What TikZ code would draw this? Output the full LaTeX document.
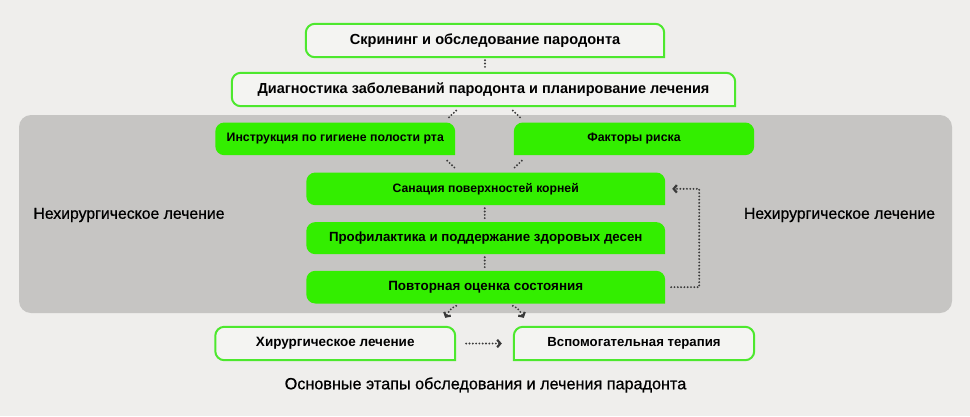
\documentclass[tikz,border=0pt]{standalone}
\usepackage{fontspec}
\setmainfont{Liberation Sans}
\newfontfamily\medfont[FakeBold=0.7]{Liberation Sans}
\usetikzlibrary{arrows.meta,calc,backgrounds}
\definecolor{bgc}{HTML}{EFEEEC}
\definecolor{panelc}{HTML}{C6C5C3}
\definecolor{gfill}{HTML}{33EE00}
\definecolor{gline}{HTML}{4DE82E}
\definecolor{wfill}{HTML}{F4F4F2}
\definecolor{dotc}{HTML}{3A3A3A}
\newcommand\rr{9pt}
% shape with sharp south-east corner
\newcommand\shapeSE[2]{\path[#2] let \p1=(#1.south west),\p2=(#1.north east) in
 (\x2,\y1) -- (\x2,{\y2-\rr}) arc[start angle=0,end angle=90,radius=\rr]
 -- ({\x1+\rr},\y2) arc[start angle=90,end angle=180,radius=\rr]
 -- (\x1,{\y1+\rr}) arc[start angle=180,end angle=270,radius=\rr] -- cycle;}
% shape with sharp south-west corner
\newcommand\shapeSW[2]{\path[#2] let \p1=(#1.south west),\p2=(#1.north east) in
 (\x1,\y1) -- ({\x2-\rr},\y1) arc[start angle=270,end angle=360,radius=\rr]
 -- (\x2,{\y2-\rr}) arc[start angle=0,end angle=90,radius=\rr]
 -- ({\x1+\rr},\y2) arc[start angle=90,end angle=180,radius=\rr] -- cycle;}
\begin{document}
\begin{tikzpicture}[x=1pt,y=1pt,
  tb/.style={inner sep=0pt,text=black},
  wbox/.style={fill=wfill,draw=gline,line width=2pt},
  gbox/.style={fill=gfill},
  dotline/.style={draw=dotc,line width=2.1pt,line cap=round,dash pattern=on 0pt off 3.3pt},
  tip/.style={-{Straight Barb[length=3.2pt,width=7.5pt,line width=2.2pt]}},
  lbl/.style={inner sep=0pt,text=black}]
\useasboundingbox (0,0) rectangle (970,-416);

% nodes (text), sized as the boxes
\node[tb,minimum width=358pt,minimum height=33pt,font=\bfseries\fontsize{14.6}{16}\selectfont] (b1) at (485,-40.5) {Скрининг и обследование пародонта};
\node[tb,minimum width=503pt,minimum height=33pt,font=\bfseries\fontsize{14.5}{16}\selectfont] (b2) at (483.5,-89.5) {Диагностика заболеваний пародонта и планирование лечения};
\node[tb,minimum width=239.5pt,minimum height=32.3pt,font=\bfseries\fontsize{12.3}{14}\selectfont] (b3) at (335.25,-138.85) {Инструкция по гигиене полости рта};
\node[tb,minimum width=240pt,minimum height=32.3pt,font=\bfseries\fontsize{12.3}{14}\selectfont] (b4) at (634,-138.85) {Факторы риска};
\node[tb,minimum width=358.5pt,minimum height=32.3pt,font=\bfseries\fontsize{12.2}{14}\selectfont] (b5) at (485.75,-188.85) {Санация поверхностей корней};
\node[tb,minimum width=358.5pt,minimum height=31.7pt,font=\bfseries\fontsize{13.3}{15}\selectfont] (b6) at (485.75,-238.15) {Профилактика и поддержание здоровых десен};
\node[tb,minimum width=358.5pt,minimum height=32.3pt,font=\bfseries\fontsize{13.4}{15}\selectfont] (b7) at (485.75,-287.15) {Повторная оценка состояния};
\node[tb,minimum width=239.5pt,minimum height=33pt,font=\bfseries\fontsize{13.5}{15}\selectfont] (b8) at (335.25,-343.5) {Хирургическое лечение};
\node[tb,minimum width=240pt,minimum height=33pt,font=\bfseries\fontsize{13.2}{15}\selectfont] (b9) at (634,-343.5) {Вспомогательная терапия};

\node[lbl,font=\medfont\fontsize{15.8}{18}\selectfont] (l1) at (129,-215) {Нехирургическое лечение};
\node[lbl,font=\medfont\fontsize{15.8}{18}\selectfont] (l2) at (839.5,-215) {Нехирургическое лечение};
\node[lbl,font=\medfont\fontsize{16.2}{18}\selectfont] (cap) at (485.5,-385) {Основные этапы обследования и лечения парадонта};

\begin{scope}[on background layer]
  \fill[bgc] (0,0) rectangle (970,-416);
  \fill[panelc,rounded corners=12pt] (19,-115) rectangle (952,-313);
  \shapeSE{b1}{wbox}
  \shapeSE{b2}{wbox}
  \shapeSE{b3}{gbox}
  \shapeSW{b4}{gbox}
  \shapeSE{b5}{gbox}
  \shapeSE{b6}{gbox}
  \shapeSE{b7}{gbox}
  \shapeSE{b8}{wbox}
  \shapeSW{b9}{wbox}
\end{scope}

% connectors
\draw[dotline] ($(b1.south)+(0,-3)$) -- ($(b2.north)+(1.5,3)$);
\draw[dotline] ($(b5.south)+(-1,-3)$) -- ($(b6.north)+(-1,3)$);
\draw[dotline] ($(b6.south)+(-1,-3)$) -- ($(b7.north)+(-1,3)$);
\draw[dotline] ($(b3.north east)+(1,12)$) -- ($(b3.north east)+(-8,3.5)$);
\draw[dotline] ($(b4.north west)+(-1,12)$) -- ($(b4.north west)+(8,3.5)$);
\draw[dotline] ($(b3.south east)+(-8,-5.5)$) -- ($(b3.south east)+(1,-14)$);
\draw[dotline] ($(b4.south west)+(8,-5.5)$) -- ($(b4.south west)+(-1,-14)$);
\draw[dotline,tip] ($(b7.east)+(6,0)$) -| ($(b5.east)+(34,0)$) -- ($(b5.east)+(7,0)$);
\draw[dotline,tip] ($(b8.north east)+(1,21)$) to[out=200,in=60] ($(b8.north east)+(-10,9)$);
\draw[dotline,tip] ($(b9.north west)+(-1,21)$) to[out=-20,in=120] ($(b9.north west)+(10,9)$);
\draw[dotline,tip] ($(b8.east)+(11,0)$) -- ($(b9.west)+(-12,0)$);
\end{tikzpicture}
\end{document}
